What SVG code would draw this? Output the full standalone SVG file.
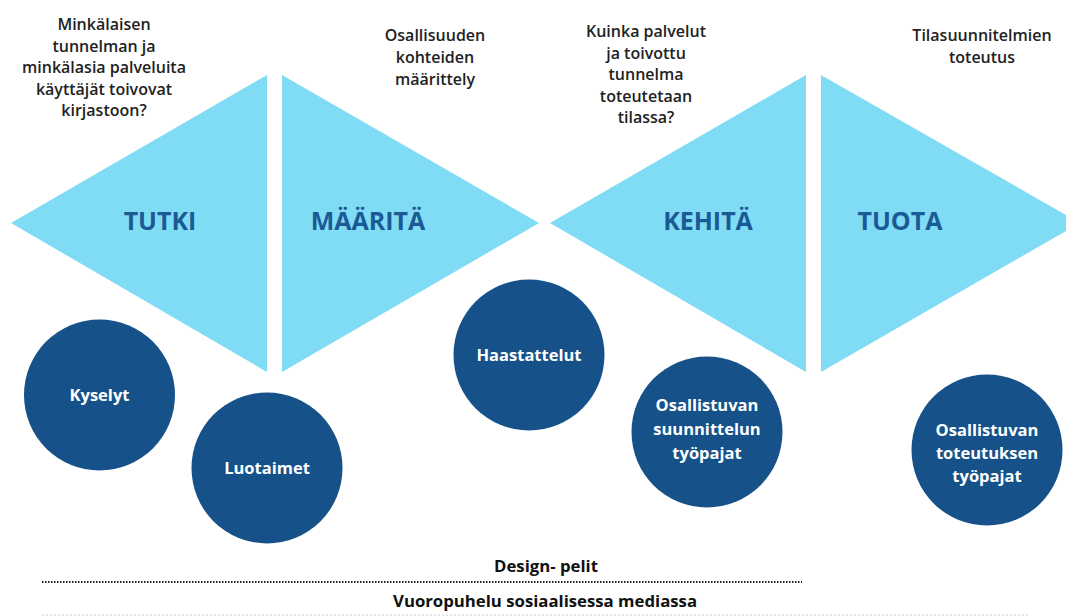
<svg xmlns="http://www.w3.org/2000/svg" width="1066" height="616" viewBox="0 0 1066 616">
<style>
.tri{fill:#80dcf4}
.phase{font-family:"Open Sans","Liberation Sans",sans-serif;font-weight:700;font-size:25px;fill:#1b5a94;text-anchor:middle}
.q{font-family:"Open Sans","Liberation Sans",sans-serif;font-weight:600;font-size:16px;fill:#222;text-anchor:middle}
.circ{fill:#165289}
.ct{font-family:"Open Sans","Liberation Sans",sans-serif;font-weight:700;font-size:16.5px;fill:#fff;text-anchor:middle}
.bt{font-family:"Open Sans","Liberation Sans",sans-serif;font-weight:700;font-size:16px;fill:#111;text-anchor:middle}
</style>
<rect width="1066" height="616" fill="#fff"/>
<g id="tutki"><polygon class="tri" points="11,223 267,75 267,372"/><text class="phase" x="160" y="230">TUTKI</text></g>
<g id="maarita"><polygon class="tri" points="282,75 539,223 282,372"/><text class="phase" x="368" y="230">MÄÄRITÄ</text></g>
<g id="kehita"><polygon class="tri" points="550,223 806,75 806,372"/><text class="phase" x="708" y="230">KEHITÄ</text></g>
<g id="tuota"><polygon class="tri" points="821,75 1066,215 1066,231 821,372"/><text class="phase" x="900" y="230">TUOTA</text></g>
<g id="q1"><text class="q" x="104" y="30">Minkälaisen</text><text class="q" x="104" y="51.5">tunnelman ja</text><text class="q" x="104" y="73">minkälasia palveluita</text><text class="q" x="104" y="94.5">käyttäjät toivovat</text><text class="q" x="104" y="116">kirjastoon?</text></g>
<g id="q2"><text class="q" x="435" y="41">Osallisuuden</text><text class="q" x="435" y="63">kohteiden</text><text class="q" x="435" y="85">määrittely</text></g>
<g id="q3"><text class="q" x="646" y="37">Kuinka palvelut</text><text class="q" x="646" y="58.5">ja toivottu</text><text class="q" x="646" y="80">tunnelma</text><text class="q" x="646" y="101.5">toteutetaan</text><text class="q" x="646" y="123">tilassa?</text></g>
<g id="q4"><text class="q" x="982" y="41">Tilasuunnitelmien</text><text class="q" x="982" y="63">toteutus</text></g>
<g id="kyselyt"><circle class="circ" cx="99.5" cy="395" r="75.5"/><text class="ct" x="99.5" y="401">Kyselyt</text></g>
<g id="luotaimet"><circle class="circ" cx="267" cy="468" r="75.5"/><text class="ct" x="267" y="474">Luotaimet</text></g>
<g id="haastattelut"><circle class="circ" cx="529" cy="355" r="75.5"/><text class="ct" x="529" y="361">Haastattelut</text></g>
<g id="suunnittelu"><circle class="circ" cx="707" cy="432" r="75.5"/><text class="ct" x="707" y="411">Osallistuvan</text><text class="ct" x="707" y="435">suunnittelun</text><text class="ct" x="707" y="459">työpajat</text></g>
<g id="toteutus"><circle class="circ" cx="987" cy="450" r="75.5"/><text class="ct" x="987" y="436">Osallistuvan</text><text class="ct" x="987" y="459">toteutuksen</text><text class="ct" x="987" y="482">työpajat</text></g>
<g id="connectors">
<line x1="42" y1="582" x2="802" y2="582" stroke="#222" stroke-width="2" stroke-dasharray="1.5,1.5"/>
<line x1="42" y1="615" x2="1030" y2="615" stroke="#ccc" stroke-width="1" stroke-dasharray="2,2"/>
</g>
<g id="bottom"><text class="bt" x="546" y="572" textLength="104" lengthAdjust="spacingAndGlyphs">Design- pelit</text><text class="bt" x="545" y="607" textLength="304" lengthAdjust="spacingAndGlyphs">Vuoropuhelu sosiaalisessa mediassa</text></g>
</svg>
